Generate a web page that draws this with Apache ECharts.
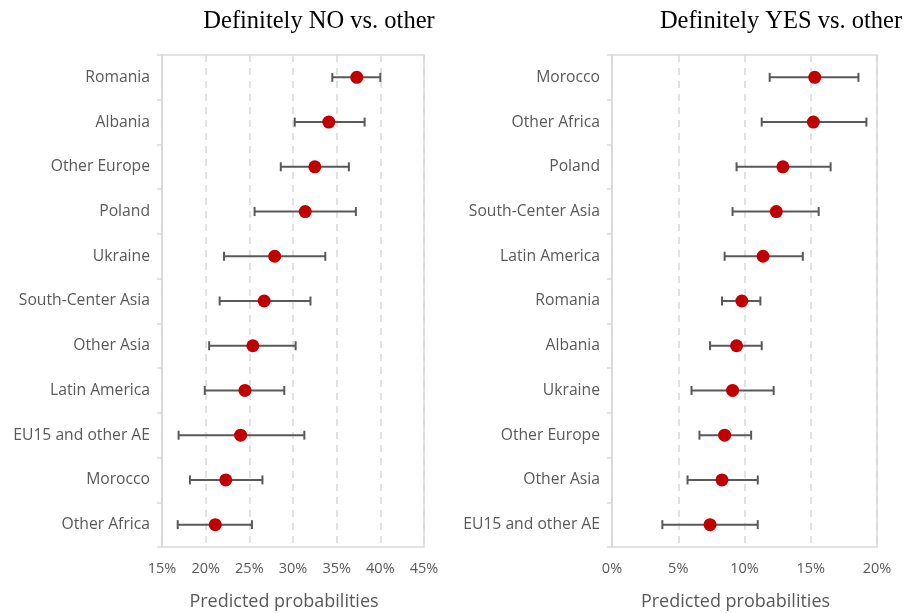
<!DOCTYPE html>
<html>
<head>
<meta charset="utf-8">
<script src="https://cdn.jsdelivr.net/npm/echarts@6/dist/echarts.min.js"></script>
<style>html,body{margin:0;padding:0;background:#fff}#c{width:908px;height:613px}</style>
</head>
<body>
<div id="c"></div>
<script>
// Left panel: Definitely NO vs. other (values in %)
var catsNo = ['Romania','Albania','Other Europe','Poland','Ukraine','South-Center Asia','Other Asia','Latin America','EU15 and other AE','Morocco','Other Africa'];
var meanNo = [37.3, 34.1, 32.5, 31.4, 27.9, 26.7, 25.4, 24.5, 24.0, 22.3, 21.1];
var lowNo  = [34.5, 30.2, 28.6, 25.6, 22.1, 21.6, 20.4, 19.9, 16.9, 18.2, 16.8];
var highNo = [40.0, 38.2, 36.4, 37.2, 33.7, 32.0, 30.3, 29.0, 31.3, 26.5, 25.3];

// Right panel: Definitely YES vs. other (values in %)
var catsYes = ['Morocco','Other Africa','Poland','South-Center Asia','Latin America','Romania','Albania','Ukraine','Other Europe','Other Asia','EU15 and other AE'];
var meanYes = [15.3, 15.2, 12.9, 12.4, 11.4, 9.8, 9.4, 9.1, 8.5, 8.3, 7.4];
var lowYes  = [11.9, 11.3, 9.4, 9.1, 8.5, 8.3, 7.4, 6.0, 6.6, 5.7, 3.8];
var highYes = [18.6, 19.2, 16.5, 15.6, 14.4, 11.2, 11.3, 12.2, 10.5, 11.0, 11.0];

var ticksNo = {min: 15, max: 45, interval: 5};
var ticksYes = {min: 0, max: 20, interval: 5};

var chart = echarts.init(document.getElementById('c'));
var grey = '#595959', light = '#d9d9d9', red = '#c00000';
var labelFont = '"Open Sans", Lato, sans-serif';

function errData(low, high) {
  return low.map(function (l, i) { return [l, high[i], i]; });
}
function ptData(mean) {
  return mean.map(function (m, i) { return [m, i]; });
}
function renderErr(params, api) {
  var a = api.coord([api.value(0), api.value(2)]);
  var b = api.coord([api.value(1), api.value(2)]);
  var h = 4.5;
  var st = {stroke: grey, lineWidth: 2};
  return {type: 'group', children: [
    {type: 'line', shape: {x1: a[0], y1: a[1], x2: b[0], y2: b[1]}, style: st},
    {type: 'line', shape: {x1: a[0], y1: a[1] - h, x2: a[0], y2: a[1] + h}, style: st},
    {type: 'line', shape: {x1: b[0], y1: b[1] - h, x2: b[0], y2: b[1] + h}, style: st}
  ]};
}
function xAx(idx, t) {
  return {
    type: 'value', gridIndex: idx, min: t.min, max: t.max, interval: t.interval,
    axisLine: {show: false}, axisTick: {show: false},
    axisLabel: {formatter: function (v) { return v + '%'; }, color: grey, fontSize: 14.5, fontFamily: labelFont, margin: 14},
    splitLine: {show: true, lineStyle: {color: light, width: 1.5, type: [7, 6]}},
    name: 'Predicted probabilities', nameLocation: 'middle', nameGap: 46,
    nameTextStyle: {color: grey, fontSize: 18, fontFamily: labelFont, padding: [0, 18, 0, 0]}
  };
}
function yAx(idx, cats) {
  return {
    type: 'category', gridIndex: idx, data: cats, inverse: true,
    axisLine: {show: true, lineStyle: {color: light, width: 1.5}},
    axisTick: {show: true, length: 5, lineStyle: {color: light, width: 1.5}},
    axisLabel: {color: grey, fontSize: 15.7, fontFamily: labelFont, margin: 12},
    splitLine: {show: false}
  };
}

chart.setOption({
  animation: false,
  title: [
    {text: 'Definitely NO vs. other', left: 314, top: 4, textAlign: 'center',
     textStyle: {fontFamily: '"Liberation Serif", "Times New Roman", serif', fontWeight: 'normal', fontSize: 24.5, color: '#000'}},
    {text: 'Definitely YES vs. other', left: 776, top: 4, textAlign: 'center',
     textStyle: {fontFamily: '"Liberation Serif", "Times New Roman", serif', fontWeight: 'normal', fontSize: 24.5, color: '#000'}}
  ],
  grid: [
    {left: 162, top: 55, width: 262, height: 492, outerBoundsMode: 'none', containLabel: false, show: true, borderColor: light, borderWidth: 1.5, backgroundColor: '#fff'},
    {left: 612, top: 55, width: 265, height: 492, outerBoundsMode: 'none', containLabel: false, show: true, borderColor: light, borderWidth: 1.5, backgroundColor: '#fff'}
  ],
  xAxis: [xAx(0, ticksNo), xAx(1, ticksYes)],
  yAxis: [yAx(0, catsNo), yAx(1, catsYes)],
  series: [
    {type: 'custom', xAxisIndex: 0, yAxisIndex: 0, renderItem: renderErr, data: errData(lowNo, highNo), encode: {x: [0, 1], y: 2}, z: 2},
    {type: 'scatter', xAxisIndex: 0, yAxisIndex: 0, data: ptData(meanNo), symbolSize: 13, itemStyle: {color: red, opacity: 1}, z: 3},
    {type: 'custom', xAxisIndex: 1, yAxisIndex: 1, renderItem: renderErr, data: errData(lowYes, highYes), encode: {x: [0, 1], y: 2}, z: 2},
    {type: 'scatter', xAxisIndex: 1, yAxisIndex: 1, data: ptData(meanYes), symbolSize: 13, itemStyle: {color: red, opacity: 1}, z: 3}
  ]
});
</script>
</body>
</html>
